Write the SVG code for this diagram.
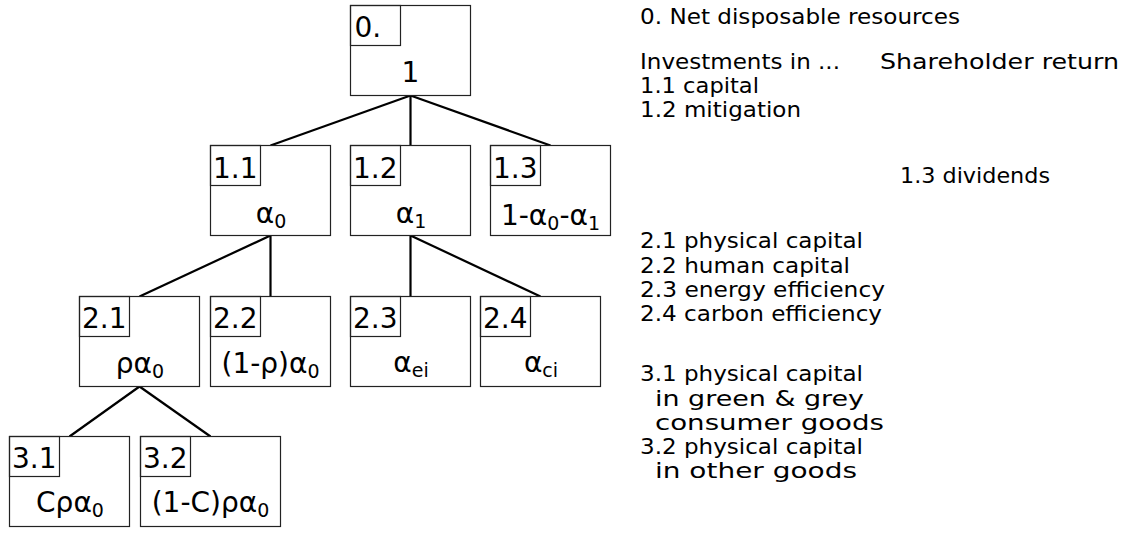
<svg xmlns="http://www.w3.org/2000/svg" width="1129" height="546" viewBox="0 0 1129 546">
<style>
  .box { fill: #ffffff; stroke: #222222; stroke-width: 1.2; }
  .lbl { fill: none; stroke: #222222; stroke-width: 1.2; }
  .lt { font-family: "DejaVu Sans", "Liberation Sans", sans-serif; font-size: 28px; fill: #000; }
  .ct { font-family: "DejaVu Sans", "Liberation Sans", sans-serif; font-size: 28px; fill: #000; text-anchor: middle; }
  .sub { font-size: 19px; }
  .conn line { stroke: #000; stroke-width: 2.2; }
  .rt { font-family: "DejaVu Sans", "Liberation Sans", sans-serif; font-size: 21.5px; fill: #000; }
</style>
<rect width="1129" height="546" fill="#ffffff"/>
<g class="conn" id="connectors">
  <line x1="410.5" y1="95.5" x2="270.5" y2="145.5"/>
  <line x1="410.5" y1="95.5" x2="410.5" y2="145.5"/>
  <line x1="410.5" y1="95.5" x2="550.5" y2="145.5"/>
  <line x1="270.5" y1="235.5" x2="139.5" y2="296.5"/>
  <line x1="270.5" y1="235.5" x2="270.5" y2="296.5"/>
  <line x1="410.5" y1="235.5" x2="410.5" y2="296.5"/>
  <line x1="410.5" y1="235.5" x2="540.5" y2="296.5"/>
  <line x1="139.5" y1="386.5" x2="69.5" y2="436.5"/>
  <line x1="139.5" y1="386.5" x2="210.5" y2="436.5"/>
</g>
<g id="n0">
  <rect class="box" x="350.5" y="5.5" width="120" height="90"/>
  <rect class="lbl" x="350.5" y="5.5" width="50" height="40"/>
  <text class="lt" x="354.5" y="37">0.</text>
  <text class="ct" x="410.5" y="82">1</text>
</g>
<g id="n1_1">
  <rect class="box" x="210.5" y="145.5" width="120" height="90"/>
  <rect class="lbl" x="210.5" y="145.5" width="50" height="40"/>
  <text class="lt" x="213" y="177.5">1.1</text>
  <text class="ct" x="271" y="222.5">α<tspan class="sub" dy="5">0</tspan></text>
</g>
<g id="n1_2">
  <rect class="box" x="350.5" y="145.5" width="120" height="90"/>
  <rect class="lbl" x="350.5" y="145.5" width="50" height="40"/>
  <text class="lt" x="353" y="177.5">1.2</text>
  <text class="ct" x="411" y="222.5">α<tspan class="sub" dy="5">1</tspan></text>
</g>
<g id="n1_3">
  <rect class="box" x="490.5" y="145.5" width="120" height="90"/>
  <rect class="lbl" x="490.5" y="145.5" width="50" height="40"/>
  <text class="lt" x="493" y="177.5">1.3</text>
  <text class="ct" x="550.5" y="224.5">1-α<tspan class="sub" dy="5">0</tspan><tspan dy="-5">-α</tspan><tspan class="sub" dy="5">1</tspan></text>
</g>
<g id="n2_1">
  <rect class="box" x="79.5" y="296.5" width="120" height="90"/>
  <rect class="lbl" x="79.5" y="296.5" width="50" height="40"/>
  <text class="lt" x="82" y="328">2.1</text>
  <text class="ct" x="140" y="373">ρα<tspan class="sub" dy="5">0</tspan></text>
</g>
<g id="n2_2">
  <rect class="box" x="210.5" y="296.5" width="120" height="90"/>
  <rect class="lbl" x="210.5" y="296.5" width="50" height="40"/>
  <text class="lt" x="213" y="328">2.2</text>
  <text class="ct" x="270.5" y="373">(1-ρ)α<tspan class="sub" dy="5">0</tspan></text>
</g>
<g id="n2_3">
  <rect class="box" x="350.5" y="296.5" width="120" height="90"/>
  <rect class="lbl" x="350.5" y="296.5" width="50" height="40"/>
  <text class="lt" x="353" y="328">2.3</text>
  <text class="ct" x="411" y="372">α<tspan class="sub" dy="5">ei</tspan></text>
</g>
<g id="n2_4">
  <rect class="box" x="480.5" y="296.5" width="120" height="90"/>
  <rect class="lbl" x="480.5" y="296.5" width="50" height="40"/>
  <text class="lt" x="483" y="328">2.4</text>
  <text class="ct" x="541" y="372">α<tspan class="sub" dy="5">ci</tspan></text>
</g>
<g id="n3_1">
  <rect class="box" x="9.5" y="436.5" width="120" height="90"/>
  <rect class="lbl" x="9.5" y="436.5" width="50" height="40"/>
  <text class="lt" x="12" y="468">3.1</text>
  <text class="ct" x="70" y="512">Cρα<tspan class="sub" dy="5">0</tspan></text>
</g>
<g id="n3_2">
  <rect class="box" x="140.5" y="436.5" width="140" height="90"/>
  <rect class="lbl" x="140.5" y="436.5" width="50" height="40"/>
  <text class="lt" x="143" y="468">3.2</text>
  <text class="ct" x="210.5" y="512">(1-C)ρα<tspan class="sub" dy="5">0</tspan></text>
</g>
<g id="legend">
  <text class="rt" x="640" y="24" textLength="320" lengthAdjust="spacingAndGlyphs">0. Net disposable resources</text>
  <text class="rt" x="640" y="69.3" textLength="200" lengthAdjust="spacingAndGlyphs">Investments in ...</text>
  <text class="rt" x="880" y="69.3" textLength="239" lengthAdjust="spacingAndGlyphs">Shareholder return</text>
  <text class="rt" x="640" y="93.3" textLength="119" lengthAdjust="spacingAndGlyphs">1.1 capital</text>
  <text class="rt" x="640" y="116.7" textLength="161" lengthAdjust="spacingAndGlyphs">1.2 mitigation</text>
  <text class="rt" x="900" y="183.3" textLength="150" lengthAdjust="spacingAndGlyphs">1.3 dividends</text>
  <text class="rt" x="640" y="248.3" textLength="223" lengthAdjust="spacingAndGlyphs">2.1 physical capital</text>
  <text class="rt" x="640" y="272.5" textLength="210" lengthAdjust="spacingAndGlyphs">2.2 human capital</text>
  <text class="rt" x="640" y="296.7" textLength="245" lengthAdjust="spacingAndGlyphs">2.3 energy efficiency</text>
  <text class="rt" x="640" y="321" textLength="242" lengthAdjust="spacingAndGlyphs">2.4 carbon efficiency</text>
  <text class="rt" x="640" y="381" textLength="223" lengthAdjust="spacingAndGlyphs">3.1 physical capital</text>
  <text class="rt" x="655" y="405.5" textLength="209" lengthAdjust="spacingAndGlyphs">in green &amp; grey</text>
  <text class="rt" x="655" y="430" textLength="229" lengthAdjust="spacingAndGlyphs">consumer goods</text>
  <text class="rt" x="640" y="454" textLength="223" lengthAdjust="spacingAndGlyphs">3.2 physical capital</text>
  <text class="rt" x="655" y="478.3" textLength="202" lengthAdjust="spacingAndGlyphs">in other goods</text>
</g>
</svg>
